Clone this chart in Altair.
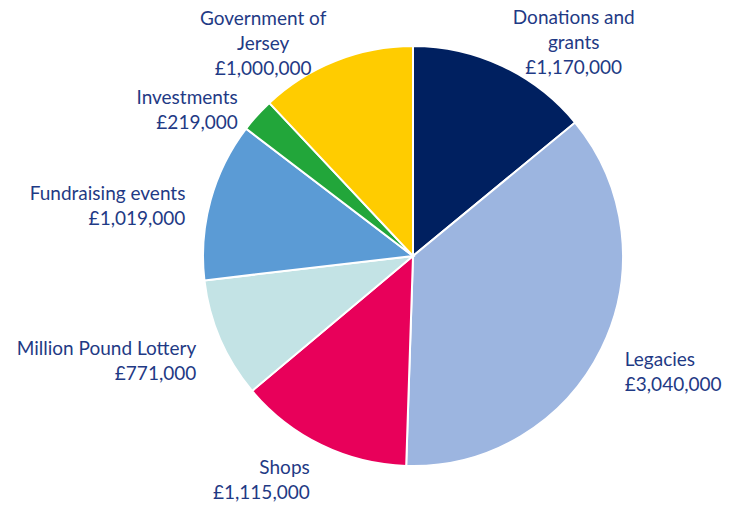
import altair as alt
import pandas as pd
import math

categories = ["Donations and grants", "Legacies", "Shops", "Million Pound Lottery",
              "Fundraising events", "Investments", "Government of Jersey"]
values = [1170000, 3040000, 1115000, 771000, 1019000, 219000, 1000000]
label_lines = ["Donations and\ngrants", "Legacies", "Shops", "Million Pound Lottery",
               "Fundraising events", "Investments", "Government of\nJersey"]
colors = ["#002060", "#9CB5E0", "#E8005A", "#C3E3E5", "#5B9BD5", "#22A63A", "#FFCC00"]

total = sum(values)
mids = []
run = 0
for v in values:
    mids.append(run + v / 2)
    run += v

df = pd.DataFrame({
    "category": categories,
    "value": values,
    "order": list(range(len(categories))),
    "mid": mids,
    "label": [f"{l}\n£{v:,}" for l, v in zip(label_lines, values)],
    "nlines": [l.count("\n") + 2 for l in label_lines],
})
df["side"] = ["right" if m < total / 2 else "left" for m in mids]

cx, cy = 405, 248
base = alt.Chart(df)

pie = base.mark_arc(outerRadius=210, stroke="white", strokeWidth=2).encode(
    theta=alt.Theta("value:Q", stack=True),
    order=alt.Order("order:Q"),
    color=alt.Color("category:N", scale=alt.Scale(domain=categories, range=colors), legend=None),
    x=alt.value(cx), y=alt.value(cy),
)

theta_lab = alt.Theta("mid:Q", stack=None, scale=alt.Scale(domain=[0, total], range=[0, 2 * math.pi]))
text_kw = dict(radius=236, font="Lato", fontSize=19, color="#1F3A85", lineBreak="\n",
               lineHeight=25, baseline="middle")
enc = dict(theta=theta_lab, text="label:N", x=alt.value(cx), y=alt.value(cy))

right2 = base.transform_filter((alt.datum.side == "right") & (alt.datum.nlines == 2)).mark_text(
    align="left", **text_kw).encode(**enc)
left2 = base.transform_filter((alt.datum.side == "left") & (alt.datum.nlines == 2)).mark_text(
    align="right", **text_kw).encode(**enc)
right3 = base.transform_filter((alt.datum.side == "right") & (alt.datum.nlines == 3)).mark_text(
    align="center", dx=60, dy=-25, **text_kw).encode(**enc)
left3 = base.transform_filter((alt.datum.side == "left") & (alt.datum.nlines == 3)).mark_text(
    align="center", dx=-63, dy=-18, **text_kw).encode(**enc)

chart = alt.layer(pie, right2, left2, right3, left3).properties(
    width=714, height=500, autosize=alt.AutoSizeParams(type="none"), padding=0
).configure_view(stroke=None)

chart.save("out.html", embed_options={"renderer": "svg", "actions": False})
